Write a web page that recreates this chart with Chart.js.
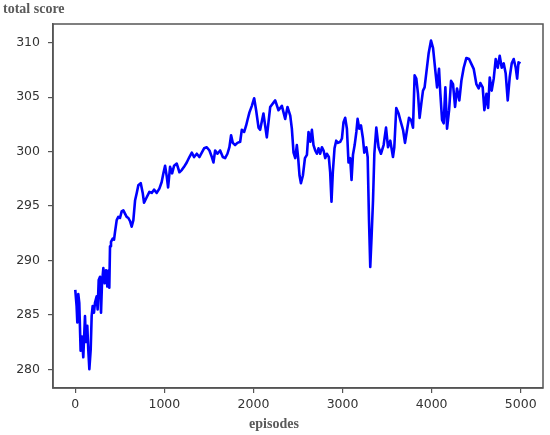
<!DOCTYPE html>
<html>
<head>
<meta charset="utf-8">
<script src="https://cdn.jsdelivr.net/npm/chart.js@4"></script>
<style>
  html, body { margin: 0; padding: 0; background: #fff; }
  #wrap { width: 550px; height: 435px; }
</style>
</head>
<body>
<div id="wrap"><canvas id="grafica" width="550" height="435"></canvas></div>
<script>
// episodios y puntuación total
const episodes = [0, 15, 23, 34, 45, 60, 75, 90, 109, 120, 135, 146, 158, 173, 184, 195, 210, 221, 240, 251,
  263, 278, 289, 300, 315, 330, 345, 360, 375, 382, 390, 401, 420, 435, 446, 465, 483, 502, 521, 540,
  558, 577, 596, 615, 633, 652, 671, 690, 708, 735, 757, 772, 802, 832, 858, 884, 914, 944, 970, 989,
  1008, 1027, 1042, 1064, 1087, 1109, 1139, 1169, 1195, 1221, 1251, 1281, 1308, 1334, 1364, 1393, 1420, 1446, 1476, 1506,
  1533, 1551, 1570, 1596, 1626, 1656, 1682, 1708, 1730, 1749, 1768, 1794, 1820, 1851, 1869, 1896, 1918, 1933, 1955, 1982,
  2008, 2030, 2057, 2075, 2112, 2150, 2188, 2244, 2281, 2319, 2356, 2382, 2413, 2431, 2450, 2469, 2487, 2502, 2517, 2533,
  2555, 2578, 2600, 2618, 2638, 2656, 2674, 2693, 2712, 2730, 2749, 2768, 2787, 2806, 2824, 2846, 2861, 2876, 2891, 2910,
  2929, 2948, 2974, 2993, 3011, 3030, 3049, 3067, 3086, 3101, 3117, 3136, 3155, 3169, 3188, 3207, 3229, 3244, 3267, 3282,
  3297, 3311, 3326, 3342, 3357, 3379, 3404, 3431, 3461, 3488, 3510, 3536, 3566, 3581, 3603, 3629, 3648, 3679, 3701, 3724,
  3746, 3769, 3791, 3809, 3828, 3847, 3865, 3884, 3903, 3921, 3940, 3966, 3993, 4016, 4042, 4061, 4083, 4098, 4117, 4135,
  4154, 4173, 4196, 4218, 4240, 4263, 4285, 4311, 4334, 4360, 4390, 4420, 4443, 4472, 4502, 4528, 4547, 4573, 4592, 4615,
  4634, 4652, 4674, 4697, 4719, 4742, 4764, 4787, 4809, 4831, 4854, 4876, 4899, 4921, 4944, 4960, 4975, 4997];
const scores = [287.3, 285.8, 284.3, 286.9, 286.1, 281.7, 283.0, 281.1, 284.9, 282.5, 284.0, 281.8, 280.0, 281.8, 284.9, 285.8, 285.2, 286.1, 286.7, 285.5,
  288.2, 288.5, 285.2, 287.9, 289.3, 287.9, 289.1, 287.6, 289.1, 287.5, 291.3, 291.7, 292.0, 291.9, 292.6, 293.7, 294.0, 293.9, 294.5, 294.6,
  294.3, 294.0, 293.9, 293.6, 293.1, 293.7, 295.5, 296.2, 296.9, 297.1, 296.2, 295.3, 295.8, 296.3, 296.2, 296.5, 296.2, 296.6, 297.2, 298.0,
  298.7, 297.7, 296.7, 298.6, 298.0, 298.7, 298.9, 298.1, 298.3, 298.6, 299.0, 299.5, 299.9, 299.5, 299.8, 299.5, 299.9, 300.3, 300.4, 300.1,
  299.5, 299.0, 300.1, 299.8, 300.1, 299.5, 299.4, 299.8, 300.4, 301.5, 300.8, 300.6, 300.8, 300.9, 302.0, 301.8, 302.4, 302.9, 303.6, 304.2,
  304.9, 303.8, 302.2, 302.0, 303.5, 301.3, 304.1, 304.7, 303.8, 304.2, 303.0, 304.1, 303.3, 302.1, 299.9, 299.4, 300.6, 299.4, 297.8, 297.1,
  297.8, 299.4, 299.7, 301.8, 300.9, 302.0, 300.6, 300.1, 299.8, 300.3, 299.8, 300.4, 300.1, 299.4, 299.8, 299.5, 298.1, 295.4, 298.1, 300.3,
  301.0, 300.8, 300.9, 301.2, 302.7, 303.1, 302.1, 299.0, 299.4, 297.4, 299.7, 300.6, 301.8, 303.0, 302.1, 302.4, 301.2, 299.9, 300.4, 299.5,
  293.7, 289.4, 292.2, 295.5, 299.8, 302.2, 300.4, 299.8, 300.6, 302.2, 300.4, 301.0, 299.5, 300.4, 304.0, 303.5, 302.9, 302.0, 300.8, 302.0,
  303.1, 302.9, 302.2, 307.0, 306.7, 305.3, 303.1, 304.4, 305.6, 305.9, 307.2, 309.0, 310.2, 309.5, 307.4, 305.9, 307.6, 305.3, 302.9, 302.6,
  305.9, 302.1, 303.8, 306.5, 306.2, 304.1, 305.8, 304.7, 306.5, 307.7, 308.6, 308.5, 308.1, 307.6, 306.2, 305.8, 306.3, 305.9, 303.8, 305.3,
  304.0, 306.8, 305.6, 306.7, 308.5, 307.7, 308.8, 307.7, 308.1, 307.2, 304.7, 306.8, 308.1, 308.5, 307.7, 306.7, 308.2, 308.1];
const xTicks = [0, 1000, 2000, 3000, 4000, 5000];
const yTicks = [280, 285, 290, 295, 300, 305, 310];

const puntos = episodes.map((e, i) => ({ x: e, y: scores[i] }));

const colorEje = "#555555";

// marco completo y textos de los ejes
const marco = {
  id: "marco",
  afterDraw(chart) {
    const ctx = chart.ctx;
    const a = chart.chartArea;
    ctx.save();
    ctx.strokeStyle = colorEje;
    ctx.lineWidth = 1.5;
    ctx.strokeRect(a.left, a.top, a.right - a.left, a.bottom - a.top);
    ctx.fillStyle = "#5a5a5a";
    ctx.font = "bold 14px 'Liberation Serif', 'DejaVu Serif', serif";
    ctx.textBaseline = "middle";
    ctx.textAlign = "left";
    ctx.fillText("total score", 3, 9);
    ctx.textAlign = "center";
    ctx.fillText("episodes", 274, 424);
    ctx.restore();
  }
};

new Chart(document.getElementById("grafica"), {
  type: "line",
  data: {
    datasets: [{
      data: puntos,
      borderColor: "#0000ff",
      borderWidth: 2.6,
      borderJoinStyle: "round",
      pointRadius: 0,
      fill: false,
      tension: 0
    }]
  },
  options: {
    responsive: false,
    animation: false,
    layout: { padding: { left: 0, top: 24, right: 7, bottom: 0 } },
    plugins: { legend: { display: false }, tooltip: { enabled: false } },
    scales: {
      x: {
        type: "linear",
        min: -250,
        max: 5250,
        afterBuildTicks: s => { s.ticks = xTicks.map(v => ({ value: v })); },
        afterFit: s => { s.height = 47; },
        grid: { drawOnChartArea: false, drawTicks: true, tickLength: 5, color: colorEje, lineWidth: 1.2 },
        border: { display: true, color: colorEje, width: 1.5 },
        ticks: {
          color: "#333", padding: 4, maxRotation: 0,
          font: { family: "'DejaVu Sans', sans-serif", size: 12.5 },
          callback: v => String(v)
        }
      },
      y: {
        min: 278.28,
        max: 311.72,
        afterBuildTicks: s => { s.ticks = yTicks.map(v => ({ value: v })); },
        afterFit: s => { s.width = 53; },
        grid: { drawOnChartArea: false, drawTicks: true, tickLength: 5, color: colorEje, lineWidth: 1.2 },
        border: { display: true, color: colorEje, width: 1.5 },
        ticks: {
          color: "#333", padding: 8,
          font: { family: "'DejaVu Sans', sans-serif", size: 12.5 },
          callback: v => String(v)
        }
      }
    }
  },
  plugins: [marco]
});
</script>
</body>
</html>
